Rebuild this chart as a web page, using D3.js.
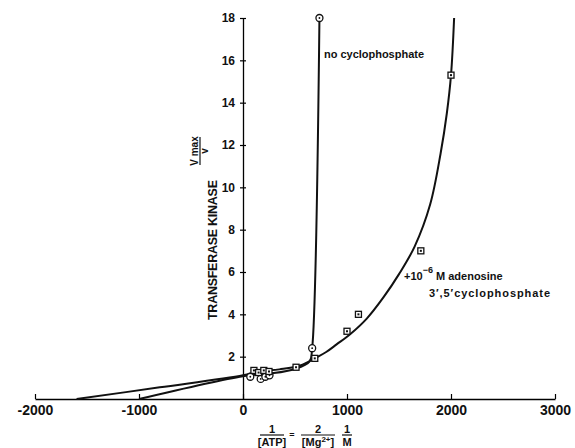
<!DOCTYPE html>
<html>
<head>
<meta charset="utf-8">
<script src="https://cdn.jsdelivr.net/npm/d3@7"></script>
<style>
  body { margin: 0; background: #fff; }
  text { font-family: "Liberation Sans", Arial, sans-serif; font-weight: bold; fill: #111; }
</style>
</head>
<body>
<script>
// tick labels
var xTicks = [-2000, -1000, 0, 1000, 2000, 3000];
var yTicks = [2, 4, 6, 8, 10, 12, 14, 16, 18];

// measured points, no cyclophosphate (circles)
var noCycloX = [70, 170, 215, 255, 665, 735];
var noCycloY = [1.05, 0.95, 1.05, 1.12, 2.4, 18];

// measured points, + cyclophosphate (squares)
var cycloX = [105, 150, 200, 250, 510, 690, 1000, 1110, 1710, 2000];
var cycloY = [1.35, 1.25, 1.35, 1.3, 1.5, 1.92, 3.2, 4.0, 7.0, 15.3];

// hand drawn fitted curves
var noCycloLineX = [-1000, 0, 260, 500, 640, 665, 735];
var noCycloLineY = [0, 1.08, 1.2, 1.42, 1.78, 2.4, 18];
var cycloLineX = [-1600, -800, 0, 150, 350, 550, 700, 800, 900, 1030, 1190, 1350, 1500, 1650, 1800, 1900, 1960, 2000, 2030];
var cycloLineY = [0, 0.55, 1.12, 1.3, 1.4, 1.58, 1.95, 2.22, 2.58, 3.06, 3.8, 4.8, 5.9, 7.2, 9.2, 11.6, 13.5, 15.3, 18];

var width = 575, height = 448;

var svg = d3.select("body").append("svg")
    .attr("width", width)
    .attr("height", height);

var x = d3.scaleLinear().domain([-2000, 3000]).range([35, 555]);
var y = d3.scaleLinear().domain([0, 18]).range([399, 18]);

// x axis, ticks pointing up
var xAxis = svg.append("g")
    .attr("transform", "translate(0," + y(0) + ")")
    .call(d3.axisBottom(x).tickValues(xTicks).tickFormat(function (d) { return d < 0 ? "-" + Math.abs(d) : d; })
        .tickSizeInner(-5).tickSizeOuter(0).tickPadding(6));
xAxis.selectAll("text").style("font-size", "14px");

// y axis at x = 0, ticks crossing the line
var yAxis = svg.append("g")
    .attr("transform", "translate(" + x(0) + ",0)")
    .call(d3.axisLeft(y).tickValues(yTicks).tickSizeInner(3).tickSizeOuter(0).tickPadding(5));
yAxis.selectAll(".tick line").attr("x1", 3);
yAxis.selectAll("text").style("font-size", "12px");
svg.selectAll(".domain").attr("stroke-width", 1.3);
svg.selectAll(".tick line").attr("stroke-width", 1.2);

// curves
var line = d3.line()
    .x(function (d) { return x(d[0]); })
    .y(function (d) { return y(d[1]); })
    .curve(d3.curveCatmullRom.alpha(0.5));

svg.append("path")
    .attr("d", line(d3.zip(cycloLineX, cycloLineY)))
    .attr("fill", "none").attr("stroke", "#111").attr("stroke-width", 2);
svg.append("path")
    .attr("d", line(d3.zip(noCycloLineX, noCycloLineY)))
    .attr("fill", "none").attr("stroke", "#111").attr("stroke-width", 2);

// circles
var circ = svg.selectAll(".circ")
    .data(d3.zip(noCycloX, noCycloY))
    .enter().append("g")
    .attr("transform", function (d) { return "translate(" + x(d[0]) + "," + y(d[1]) + ")"; });
circ.append("circle").attr("r", 3.5).attr("fill", "#fff").attr("stroke", "#111").attr("stroke-width", 1.3);
circ.append("circle").attr("r", 0.9).attr("fill", "#111");

// squares
var sq = svg.selectAll(".sq")
    .data(d3.zip(cycloX, cycloY))
    .enter().append("g")
    .attr("transform", function (d) { return "translate(" + x(d[0]) + "," + y(d[1]) + ")"; });
sq.append("rect").attr("x", -3).attr("y", -3).attr("width", 6).attr("height", 6)
    .attr("fill", "#fff").attr("stroke", "#111").attr("stroke-width", 1.3);
sq.append("rect").attr("x", -1).attr("y", -1).attr("width", 2).attr("height", 2).attr("fill", "#111");

// y title
svg.append("text")
    .attr("transform", "translate(217,250) rotate(-90)")
    .attr("text-anchor", "middle")
    .style("font-size", "12.5px")
    .attr("textLength", 140)
    .text("TRANSFERASE  KINASE");

var yf = svg.append("g").attr("transform", "translate(200,151) rotate(-90)");
yf.append("text").attr("y", -2).attr("text-anchor", "middle").style("font-size", "10px").text("V max");
yf.append("line").attr("x1", -14).attr("x2", 14).attr("y1", 0).attr("y2", 0).attr("stroke", "#111").attr("stroke-width", 1.2);
yf.append("text").attr("y", 8).attr("text-anchor", "middle").style("font-size", "10px").text("v");

// x title
var xt = svg.append("g");
function frac(cx, num, w) {
    xt.append("text").attr("x", cx).attr("y", 433).attr("text-anchor", "middle").style("font-size", "11px").text(num);
    xt.append("line").attr("x1", cx - w / 2).attr("x2", cx + w / 2).attr("y1", 435).attr("y2", 435)
        .attr("stroke", "#111").attr("stroke-width", 1.2);
    return xt.append("text").attr("x", cx).attr("y", 446).attr("text-anchor", "middle").style("font-size", "11px");
}
frac(272, "1", 24).text("[ATP]");
xt.append("text").attr("x", 292).attr("y", 438).attr("text-anchor", "middle").style("font-size", "9px").text("=");
var mg = frac(318, "2", 34);
mg.append("tspan").text("[Mg");
mg.append("tspan").attr("dy", -4).style("font-size", "8px").text("2+");
mg.append("tspan").attr("dy", 4).text("]");
frac(347, "1", 10).text("M");

// annotations
svg.append("text")
    .attr("x", 324).attr("y", 58)
    .style("font-size", "11px")
    .attr("textLength", 100)
    .text("no cyclophosphate");

var a1 = svg.append("text").attr("x", 404).attr("y", 280).style("font-size", "11px");
a1.append("tspan").text("+10");
a1.append("tspan").attr("dy", -7).style("font-size", "9px").text("−6");
a1.append("tspan").attr("dy", 7).text(" M adenosine");

svg.append("text")
    .attr("x", 429).attr("y", 297)
    .style("font-size", "11px")
    .attr("textLength", 121)
    .text("3′,5′cyclophosphate");
</script>
</body>
</html>
